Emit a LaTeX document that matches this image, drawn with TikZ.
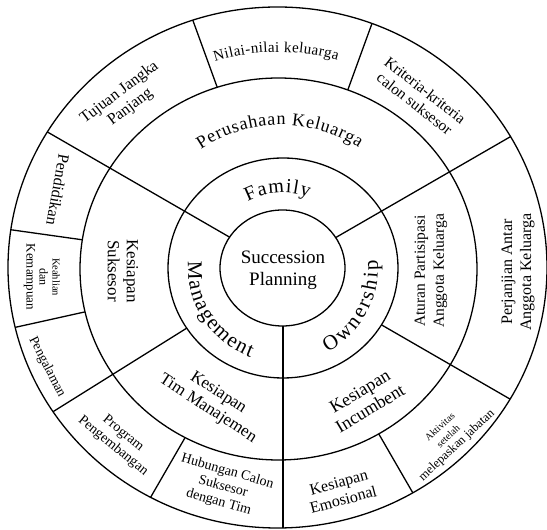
\documentclass[tikz,border=0pt]{standalone}
\usepackage{fontspec}
\setmainfont{Liberation Serif}
\usetikzlibrary{decorations.text}
\newcommand{\fs}[2]{\fontsize{#1}{#2}\selectfont}
\tikzset{
  ring/.style={line width=1.3pt},
  lbl/.style={align=center, inner sep=0pt},
  curved/.style={decorate, decoration={text along path, text align={fit to path}, text={#1}}}
}
\begin{document}
\begin{tikzpicture}[x=1pt, y=1pt]
		%%%%% START %%%%%
		\useasboundingbox (0, 0) rectangle (547, 530);
		
		\begin{scope}
		\clip (277.5, 262.5) ellipse [x radius=269.5, y radius=260.5];
		\foreach \a in {172, 192.5, 240, -60, 70, 110}
			\draw[ring] (283, 262) -- ++(\a:320);
		\filldraw[ring, fill=white] (278.5, 261) ellipse [x radius=198.5, y radius=191];
		\foreach \a in {212, -30}
			\draw[ring] (283, 262) -- ++(\a:320);
		\filldraw[ring, fill=white] (283, 262) ellipse [x radius=115, y radius=110];
		\foreach \a in {150, 270, 30}
			\draw[ring] (283, 262) -- ++(\a:320);
		\filldraw[ring, fill=white] (282.5, 262) ellipse [x radius=62.5, y radius=58];
		\end{scope}
		\draw[ring] (277.5, 262.5) ellipse [x radius=269.5, y radius=260.5];
		
		\node[lbl, font=\fs{19}{22}] (succ) at (283, 259.5) {Succession\\Planning};
		
		\path[curved={|\fs{20}{24}|Family}] (283, 262) ++(118:75) arc [start angle=118, end angle=70, radius=75];
		\path[curved={|\fs{21}{24}|Management}] (283, 262) ++(176:95) arc [start angle=176, end angle=250, radius=95];
		\path[curved={|\fs{21}{24}|Ownership}] (283, 262) ++(-62:95) arc [start angle=-62, end angle=5, radius=95];
		
		\path[curved={|\fs{18}{22}|Perusahaan Keluarga}] (281, 262) ++(124:143) arc [start angle=124, end angle=57, radius=143];
		\node[lbl, font=\fs{17}{19}, rotate=-90] (kessuk) at (123, 259) {Kesiapan\\Suksesor};
		\node[lbl, font=\fs{17}{19}, rotate=-33] (kestim) at (213, 129) {Kesiapan\\Tim Manajemen};
		\node[lbl, font=\fs{18}{20}, rotate=31] (kesinc) at (365, 130) {Kesiapan\\Incumbent};
		\node[lbl, font=\fs{15.5}{19}, rotate=90] (aturan) at (431, 259) {Aturan Partisipasi\\Anggota Keluarga};
		
		\path[curved={|\fs{15}{18}|Nilai-nilai keluarga}] (278, 262) ++(107:216) arc [start angle=107, end angle=74, radius=216];
		\node[lbl, font=\fs{16}{18}, rotate=37] (tujuan) at (125, 430) {Tujuan Jangka\\Panjang};
		\node[lbl, font=\fs{15.5}{17}, rotate=-38] (kriteria) at (420, 433) {Kriteria-kriteria\\calon suksesor};
		\node[lbl, font=\fs{16}{19}, rotate=90] (perjanjian) at (518, 258) {Perjanjian Antar\\Anggota Keluarga};
		\node[lbl, font=\fs{16}{18}, rotate=-100] (pendidikan) at (58, 340) {Pendidikan};
		\node[lbl, font=\fs{10.5}{13}, rotate=-90] (keahlian) at (42, 253) {Keahlian\\{\fs{12}{13}dan}\\{\fs{13}{13}Kemampuan}};
		\node[lbl, font=\fs{13.5}{15}, rotate=-63] (pengalaman) at (47, 163) {Pengalaman};
		\node[lbl, font=\fs{14}{16}, rotate=-39] (program) at (118, 90) {Program\\Pengembangan};
		\node[lbl, font=\fs{14}{16}, rotate=-16] (hubungan) at (223, 43) {Hubungan Calon\\Suksesor\\dengan Tim};
		\node[lbl, font=\fs{16}{18}, rotate=15] (emosional) at (341, 39) {Kesiapan\\Emosional};
		\node[lbl, font=\fs{10}{12.5}, rotate=43] (aktivitas) at (449, 93) {Aktivitas\\setelah\\{\fs{12.5}{13}melepaskan jabatan}};
		%%%%% END %%%%%
\end{tikzpicture}
\end{document}
